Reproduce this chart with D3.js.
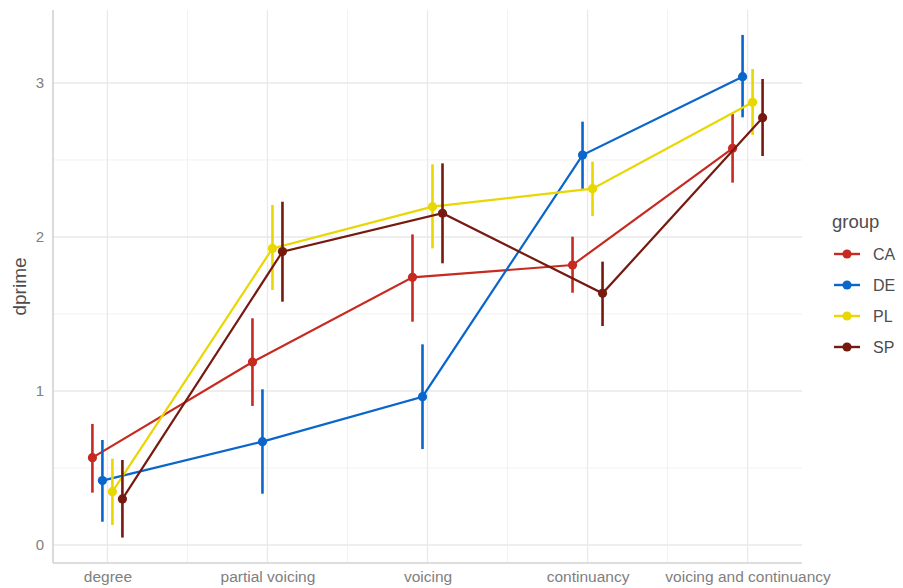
<!DOCTYPE html>
<html>
<head>
<meta charset="utf-8">
<script src="https://cdn.jsdelivr.net/npm/d3@7"></script>
<style>
  html, body { margin: 0; padding: 0; background: #fff; }
  svg { display: block; font-family: "Liberation Sans", Arial, sans-serif; }
</style>
</head>
<body>
<svg id="chart" width="903" height="588"></svg>
<script>
// Conditions along the x axis
const categories = ["degree", "partial voicing", "voicing", "continuancy", "voicing and continuancy"];
const groups = ["CA", "DE", "PL", "SP"];
const groupColors = ["#C62A20", "#0B66CC", "#E8D700", "#761A10"];

// Mean dprime per group, one value per condition
const meanCA = [0.567, 1.188, 1.738, 1.818, 2.576];
const meanDE = [0.418, 0.671, 0.963, 2.532, 3.041];
const meanPL = [0.346, 1.926, 2.197, 2.314, 2.875];
const meanSP = [0.299, 1.905, 2.154, 1.634, 2.775];

// Error bar bounds
const lowCA = [0.340, 0.903, 1.450, 1.638, 2.353];
const highCA = [0.786, 1.472, 2.017, 2.002, 2.799];
const lowDE = [0.151, 0.333, 0.623, 2.312, 2.777];
const highDE = [0.682, 1.011, 1.303, 2.749, 3.312];
const lowPL = [0.130, 1.656, 1.926, 2.136, 2.662];
const highPL = [0.560, 2.208, 2.472, 2.489, 3.091];
const lowSP = [0.048, 1.580, 1.829, 1.422, 2.526];
const highSP = [0.552, 2.229, 2.478, 1.840, 3.026];

const yTicks = [0, 1, 2, 3];
const yMinor = [0.5, 1.5, 2.5];

const means = [meanCA, meanDE, meanPL, meanSP];
const lows = [lowCA, lowDE, lowPL, lowSP];
const highs = [highCA, highDE, highPL, highSP];

const series = groups.map((g, gi) => ({
  group: g,
  color: groupColors[gi],
  values: categories.map((c, ci) => ({
    ci, gi,
    mean: means[gi][ci],
    low: lows[gi][ci],
    high: highs[gi][ci]
  }))
}));

const svg = d3.select("#chart");
const panel = { left: 53, right: 802, top: 10, bottom: 563 };

// Categories sit at positions 1..5 on a continuous scale, dodged by group
const dodgeWidth = 0.25;
const x = d3.scaleLinear().domain([1 - 0.34, 5 + 0.34]).range([panel.left, panel.right]);
const y = d3.scaleLinear().domain([-0.117, 3.474]).range([panel.bottom, panel.top]);
const dodge = gi => (gi - (groups.length - 1) / 2) * dodgeWidth / groups.length;
const px = d => x(d.ci + 1 + dodge(d.gi));

// Grid
const grid = svg.append("g");
grid.selectAll(".ymin").data(yMinor).join("line")
  .attr("x1", panel.left).attr("x2", panel.right)
  .attr("y1", d => y(d)).attr("y2", d => y(d))
  .attr("stroke", "#f2f2f2").attr("stroke-width", 1);
const xMinor = d3.range(1.5, categories.length, 1);
grid.selectAll(".xmin").data(xMinor).join("line")
  .attr("x1", d => x(d)).attr("x2", d => x(d))
  .attr("y1", panel.top).attr("y2", panel.bottom)
  .attr("stroke", "#f2f2f2").attr("stroke-width", 1);
grid.selectAll(".ymaj").data(yTicks).join("line")
  .attr("x1", panel.left).attr("x2", panel.right)
  .attr("y1", d => y(d)).attr("y2", d => y(d))
  .attr("stroke", "#e9e9e9").attr("stroke-width", 1.3);
grid.selectAll(".xmaj").data(categories).join("line")
  .attr("x1", (d, i) => x(i + 1)).attr("x2", (d, i) => x(i + 1))
  .attr("y1", panel.top).attr("y2", panel.bottom)
  .attr("stroke", "#e9e9e9").attr("stroke-width", 1.3);

// Axes
const yAxis = svg.append("g")
  .attr("transform", `translate(${panel.left},0)`)
  .call(d3.axisLeft(y).tickValues(yTicks).tickSize(0).tickPadding(9).tickFormat(d3.format("d")));
yAxis.select(".domain").remove();
yAxis.selectAll("text").attr("fill", "#808080").style("font-size", "15px");

const xAxis = svg.append("g")
  .attr("transform", `translate(0,${panel.bottom})`)
  .call(d3.axisBottom(x).tickValues(d3.range(1, categories.length + 1))
    .tickSize(0).tickPadding(8).tickFormat(d => categories[d - 1]));
xAxis.select(".domain").remove();
xAxis.selectAll("text").attr("fill", "#808080").style("font-size", "15.5px");

svg.append("line")
  .attr("x1", panel.left).attr("x2", panel.left)
  .attr("y1", panel.top).attr("y2", panel.bottom)
  .attr("stroke", "#d2d2d2").attr("stroke-width", 1.6);
svg.append("line")
  .attr("x1", panel.left).attr("x2", panel.right)
  .attr("y1", panel.bottom).attr("y2", panel.bottom)
  .attr("stroke", "#d2d2d2").attr("stroke-width", 1.6);

svg.append("text")
  .attr("transform", `translate(26,${(panel.top + panel.bottom) / 2}) rotate(-90)`)
  .attr("text-anchor", "middle")
  .attr("fill", "#4d4d4d")
  .style("font-size", "19px")
  .text("dprime");

// Lines, error bars, points
const line = d3.line().x(px).y(d => y(d.mean));
const marks = svg.append("g");
series.forEach(s => {
  const g = marks.append("g");
  g.append("path").datum(s.values)
    .attr("d", line).attr("fill", "none")
    .attr("stroke", s.color).attr("stroke-width", 2.2);
  g.selectAll(".err").data(s.values).join("line")
    .attr("x1", px).attr("x2", px)
    .attr("y1", d => y(d.low)).attr("y2", d => y(d.high))
    .attr("stroke", s.color).attr("stroke-width", 2.6);
  g.selectAll(".pt").data(s.values).join("circle")
    .attr("cx", px).attr("cy", d => y(d.mean)).attr("r", 4.6)
    .attr("fill", s.color);
});

// Legend
const legend = svg.append("g").attr("transform", "translate(832,0)");
legend.append("text").attr("x", 0).attr("y", 228)
  .attr("fill", "#4d4d4d").style("font-size", "18.5px").text("group");
const items = legend.selectAll(".item").data(series).join("g")
  .attr("transform", (d, i) => `translate(0,${254 + i * 31})`);
items.append("line").attr("x1", 2).attr("x2", 28)
  .attr("stroke", d => d.color).attr("stroke-width", 2.4);
items.append("circle").attr("cx", 15).attr("r", 4.6).attr("fill", d => d.color);
items.append("text").attr("x", 41).attr("y", 6)
  .attr("fill", "#4d4d4d").style("font-size", "16px").text(d => d.group);
</script>
</body>
</html>
